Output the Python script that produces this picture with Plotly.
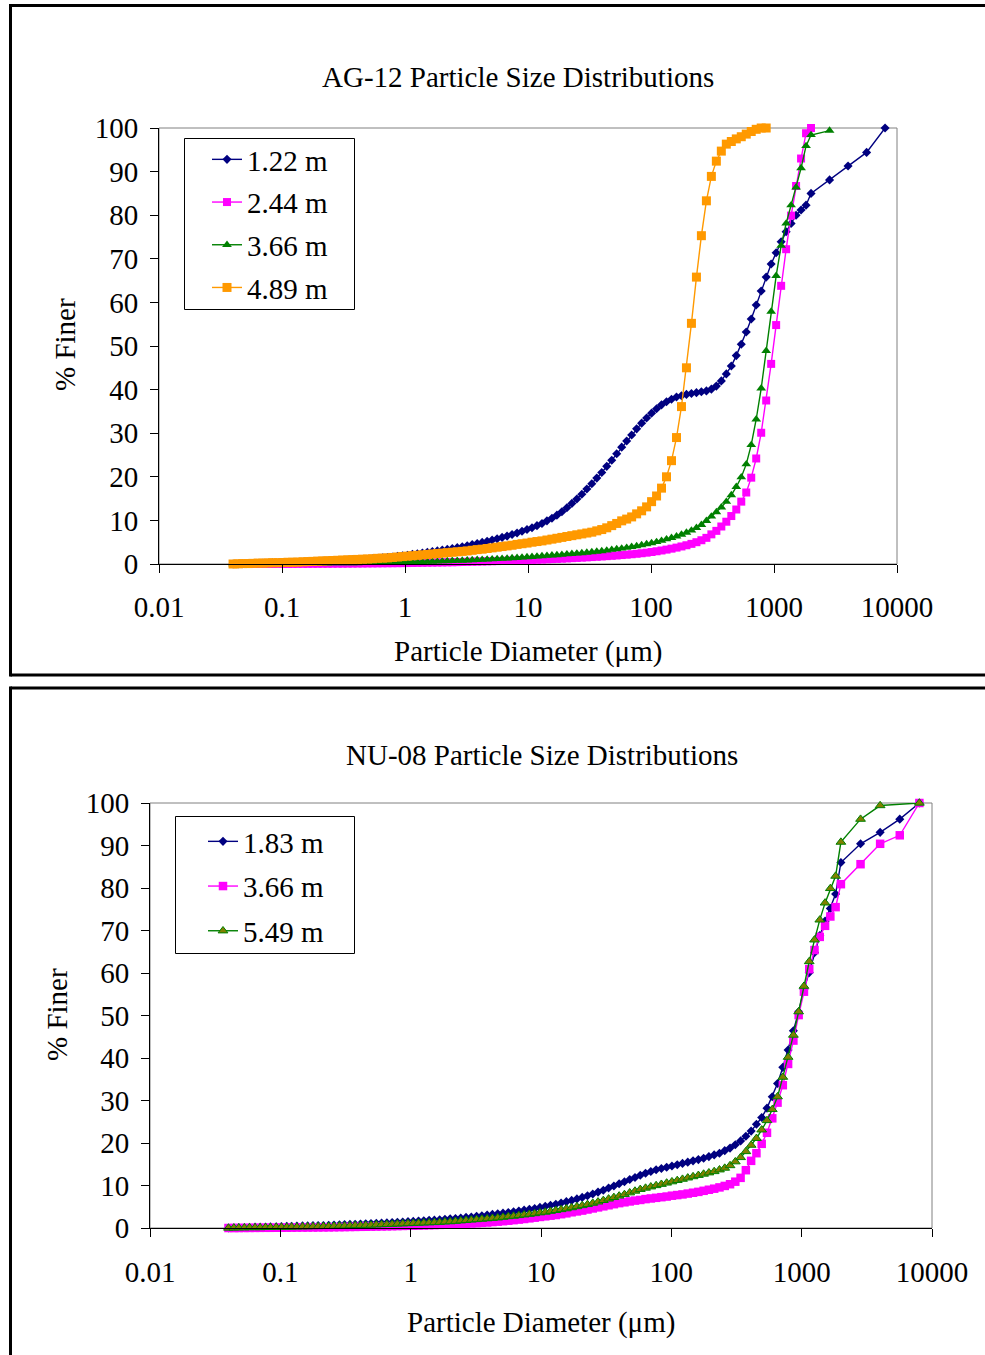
import plotly.graph_objects as go

W, H = 985, 1355
FONT = "Liberation Serif, Times New Roman, serif"

# ---------------- data ----------------
# laser-diffraction channel sizes (um)
SIZES = [0.040, 0.044, 0.048, 0.053, 0.058, 0.064, 0.070, 0.077, 0.084, 0.093,
         0.102, 0.112, 0.122, 0.134, 0.148, 0.162, 0.178, 0.195, 0.214, 0.235,
         0.258, 0.284, 0.311, 0.342, 0.375, 0.412, 0.452, 0.496, 0.545, 0.598,
         0.657, 0.721, 0.791, 0.869, 0.954, 1.047, 1.149, 1.261, 1.385, 1.520,
         1.669, 1.832, 2.010, 2.207, 2.423, 2.660, 2.920, 3.205, 3.519, 3.863,
         4.240, 4.655, 5.110, 5.610, 6.158, 6.760, 7.421, 8.147, 8.943, 9.817,
         10.78, 11.83, 12.99, 14.26, 15.65, 17.18, 18.86, 20.71, 22.73, 24.95,
         27.39, 30.07, 33.01, 36.24, 39.78, 43.67, 47.94, 52.62, 57.77, 63.41,
         69.61, 76.42, 83.89, 92.09, 101.1, 111.0, 121.8, 133.7, 146.8, 161.2,
         176.9, 194.2, 213.2, 234.1, 256.9, 282.1, 309.6, 339.9, 373.1, 409.6,
         449.7, 493.6, 541.9, 594.9, 653.0, 716.8, 786.9, 863.9, 948.3, 1041,
         1143, 1255, 1377, 1512, 1660, 1822, 2000]
# sieve sizes (um)
SIEVE_A = [2830, 4000, 5660, 8000]
SIEVE_B = [2830]
SIEVE_C = [2830, 4000, 8000]

# AG-12
AG_122 = [0.0, 0.0, 0.05, 0.1, 0.1, 0.15, 0.2, 0.2, 0.25, 0.3,
          0.3, 0.35, 0.4, 0.4, 0.45, 0.5, 0.55, 0.6, 0.65, 0.7,
          0.75, 0.8, 0.85, 0.9, 0.95, 1.0, 1.05, 1.1, 1.2, 1.3,
          1.4, 1.5, 1.6, 1.75, 1.9, 2.0, 2.2, 2.35, 2.5, 2.7,
          2.85, 3.0, 3.2, 3.35, 3.55, 3.75, 3.95, 4.2, 4.45, 4.7,
          4.95, 5.2, 5.5, 5.8, 6.1, 6.4, 6.75, 7.1, 7.5, 7.9,
          8.3, 8.8, 9.3, 9.9, 10.5, 11.2, 12.0, 12.9, 13.9, 14.9,
          16.0, 17.2, 18.4, 19.7, 21.0, 22.4, 23.8, 25.3, 26.8, 28.2,
          29.6, 31.0, 32.3, 33.5, 34.6, 35.6, 36.5, 37.2, 37.8, 38.3,
          38.6, 38.9, 39.1, 39.3, 39.5, 39.7, 40.1, 40.8, 42.0, 43.6,
          45.4, 47.8, 50.4, 53.2, 56.2, 59.4, 62.6, 65.8, 68.8, 71.4,
          73.9, 76.2, 78.1, 80.0, 81.2, 82.3, 85.0,
          88.1, 91.3, 94.4, 100.0]
AG_244 = [0.0, 0.0, 0.0, 0.0, 0.0, 0.0, 0.01, 0.01, 0.01, 0.02,
          0.02, 0.02, 0.03, 0.03, 0.04, 0.04, 0.05, 0.05, 0.06, 0.06,
          0.07, 0.08, 0.08, 0.09, 0.1, 0.11, 0.12, 0.13, 0.14, 0.15,
          0.16, 0.17, 0.18, 0.19, 0.2, 0.22, 0.24, 0.26, 0.28, 0.3,
          0.32, 0.34, 0.36, 0.38, 0.4, 0.43, 0.46, 0.49, 0.52, 0.55,
          0.58, 0.61, 0.64, 0.67, 0.7, 0.74, 0.78, 0.82, 0.86, 0.9,
          0.94, 0.98, 1.02, 1.07, 1.12, 1.17, 1.22, 1.28, 1.34, 1.4,
          1.46, 1.52, 1.59, 1.66, 1.73, 1.8, 1.88, 1.96, 2.05, 2.14,
          2.24, 2.35, 2.47, 2.6, 2.75, 2.92, 3.1, 3.3, 3.52, 3.76,
          4.02, 4.3, 4.62, 5.0, 5.45, 6.0, 6.8, 7.6, 8.6, 9.7,
          11.0, 12.5, 14.3, 16.4, 19.8, 24.2, 30.1, 37.5, 45.9, 54.8,
          63.8, 72.2, 79.9, 86.7, 93.0, 98.8, 100.0]
AG_366 = [0.0, 0.0, 0.0, 0.01, 0.02, 0.03, 0.04, 0.05, 0.06, 0.07,
          0.08, 0.09, 0.1, 0.11, 0.12, 0.13, 0.14, 0.15, 0.16, 0.17,
          0.18, 0.19, 0.2, 0.21, 0.22, 0.23, 0.24, 0.25, 0.27, 0.29,
          0.31, 0.33, 0.35, 0.37, 0.39, 0.42, 0.45, 0.48, 0.51, 0.54,
          0.57, 0.6, 0.64, 0.68, 0.72, 0.76, 0.8, 0.85, 0.9, 0.95,
          1.0, 1.05, 1.1, 1.16, 1.22, 1.28, 1.35, 1.42, 1.5, 1.58,
          1.66, 1.74, 1.82, 1.9, 1.98, 2.06, 2.15, 2.24, 2.33, 2.42,
          2.52, 2.62, 2.73, 2.85, 2.98, 3.12, 3.27, 3.42, 3.58, 3.75,
          3.93, 4.12, 4.33, 4.56, 4.8, 5.05, 5.35, 5.68, 6.0, 6.35,
          6.75, 7.2, 7.7, 8.3, 9.0, 9.9, 10.9, 11.9, 13.0, 14.3,
          15.8, 17.7, 19.9, 22.9, 27.3, 33.2, 40.3, 48.9, 57.9, 66.1,
          73.0, 78.1, 82.3, 86.4, 90.8, 95.9, 98.4,
          99.4]
AG_489 = [0.0, 0.05, 0.1, 0.1, 0.15, 0.2, 0.2, 0.25, 0.3, 0.3,
          0.35, 0.4, 0.4, 0.45, 0.5, 0.55, 0.6, 0.65, 0.7, 0.75,
          0.8, 0.85, 0.9, 0.95, 1.0, 1.05, 1.1, 1.15, 1.2, 1.3,
          1.35, 1.4, 1.5, 1.6, 1.7, 1.8, 1.9, 2.0, 2.1, 2.2,
          2.3, 2.4, 2.5, 2.6, 2.7, 2.8, 2.9, 3.0, 3.15, 3.3,
          3.4, 3.55, 3.7, 3.85, 4.0, 4.15, 4.3, 4.5, 4.65, 4.8,
          5.0, 5.15, 5.3, 5.5, 5.7, 5.9, 6.1, 6.3, 6.5, 6.7,
          6.9, 7.1, 7.3, 7.6, 7.9, 8.3, 8.8, 9.3, 9.9, 10.3,
          10.8, 11.5, 12.2, 13.1, 14.3, 15.6, 17.4, 20.0, 23.7, 29.0,
          36.1, 45.0, 55.2, 65.8, 75.3, 83.3, 88.9, 92.4, 94.7, 96.3,
          96.9, 97.5, 98.0, 98.6, 99.2, 99.7, 100.0, 100.0]

# NU-08
NU_183 = [0.0, 0.05, 0.1, 0.1, 0.15, 0.2, 0.2, 0.25, 0.3, 0.3,
          0.35, 0.4, 0.4, 0.45, 0.5, 0.5, 0.55, 0.6, 0.6, 0.65,
          0.7, 0.75, 0.8, 0.85, 0.9, 0.95, 1.0, 1.05, 1.1, 1.15,
          1.2, 1.3, 1.35, 1.4, 1.5, 1.55, 1.65, 1.7, 1.8, 1.85,
          1.95, 2.05, 2.15, 2.25, 2.35, 2.5, 2.6, 2.75, 2.9, 3.05,
          3.2, 3.35, 3.5, 3.65, 3.8, 4.0, 4.2, 4.4, 4.6, 4.85,
          5.1, 5.35, 5.6, 5.9, 6.2, 6.5, 6.85, 7.2, 7.6, 8.0,
          8.45, 8.9, 9.4, 9.9, 10.4, 10.9, 11.4, 11.9, 12.4, 12.9,
          13.3, 13.7, 14.0, 14.3, 14.6, 14.9, 15.2, 15.5, 15.8, 16.1,
          16.4, 16.8, 17.2, 17.6, 18.2, 18.8, 19.6, 20.5, 21.6, 22.8,
          24.4, 26.0, 28.2, 30.9, 34.0, 37.8, 41.9, 46.4, 50.9, 56.2,
          60.1, 64.8, 68.8, 72.2, 75.2, 78.6, 86.0,
          90.4, 93.1, 96.2, 100.0]
NU_366 = [0.0, 0.0, 0.0, 0.02, 0.02, 0.03, 0.04, 0.05, 0.05, 0.06,
          0.07, 0.08, 0.09, 0.1, 0.11, 0.12, 0.13, 0.14, 0.15, 0.16,
          0.18, 0.2, 0.22, 0.24, 0.26, 0.28, 0.3, 0.32, 0.35, 0.38,
          0.4, 0.43, 0.46, 0.49, 0.52, 0.55, 0.58, 0.62, 0.66, 0.7,
          0.74, 0.78, 0.83, 0.88, 0.94, 1.0, 1.07, 1.14, 1.22, 1.3,
          1.4, 1.5, 1.6, 1.72, 1.85, 1.98, 2.12, 2.27, 2.43, 2.6,
          2.75, 2.9, 3.05, 3.25, 3.45, 3.7, 3.9, 4.1, 4.35, 4.6,
          4.85, 5.1, 5.35, 5.6, 5.85, 6.05, 6.25, 6.45, 6.6, 6.8,
          6.95, 7.1, 7.25, 7.4, 7.6, 7.75, 7.9, 8.1, 8.3, 8.5,
          8.75, 9.0, 9.25, 9.55, 9.9, 10.3, 10.9, 11.8, 13.6, 15.8,
          17.6, 19.8, 22.4, 25.8, 29.5, 33.6, 38.6, 44.1, 50.1, 55.6,
          60.9, 65.4, 68.5, 71.1, 73.3, 75.5, 80.9,
          85.6, 90.4, 92.4, 100.0]
NU_549 = [0.0, 0.02, 0.05, 0.05, 0.1, 0.1, 0.1, 0.15, 0.15, 0.2,
          0.2, 0.2, 0.25, 0.25, 0.3, 0.3, 0.35, 0.35, 0.4, 0.4,
          0.45, 0.5, 0.5, 0.55, 0.6, 0.6, 0.65, 0.7, 0.75, 0.8,
          0.85, 0.9, 0.95, 1.0, 1.05, 1.1, 1.15, 1.2, 1.25, 1.3,
          1.35, 1.45, 1.5, 1.6, 1.7, 1.8, 1.9, 2.0, 2.1, 2.2,
          2.3, 2.4, 2.55, 2.7, 2.8, 2.95, 3.1, 3.25, 3.4, 3.6,
          3.75, 3.95, 4.15, 4.35, 4.55, 4.8, 5.05, 5.3, 5.55, 5.85,
          6.15, 6.5, 6.85, 7.2, 7.55, 7.9, 8.3, 8.7, 9.1, 9.4,
          9.7, 10.0, 10.3, 10.6, 10.9, 11.2, 11.5, 11.8, 12.1, 12.4,
          12.7, 13.0, 13.3, 13.7, 14.1, 14.7, 15.6, 16.6, 18.0, 19.5,
          21.1, 23.1, 25.3, 27.9, 30.9, 35.5, 40.2, 45.4, 50.9, 56.9,
          62.7, 67.8, 72.5, 76.5, 79.9, 82.8, 90.8,
          96.2, 99.4, 100.0]

XTICKS = [0.01, 0.1, 1, 10, 100, 1000, 10000]
XTICKTEXT = ["0.01", "0.1", "1", "10", "100", "1000", "10000"]
YTICKS = [0, 10, 20, 30, 40, 50, 60, 70, 80, 90, 100]

NAVY, MAGENTA, GREEN, ORANGE, OLIVE = "#000080", "#FF00FF", "#008000", "#FF9900", "#808000"


def px(v):
    return v / W


def py(v):
    return 1 - v / H


fig = go.Figure()


def add(x, y, name, color, symbol, size, xa, ya, leg, grp, rank, mfill=None, mline=None):
    fig.add_trace(go.Scatter(
        x=x, y=y, name=name, mode="lines+markers",
        line=dict(color=color, width=1.4),
        marker=dict(symbol=symbol, size=size, color=mfill or color,
                    line=dict(color=mline or color, width=1 if mline else 0)),
        cliponaxis=False, xaxis=xa, yaxis=ya, legend=leg,
        legendgroup=grp, legendrank=rank, hoverinfo="skip"))


# top chart
add(SIZES + SIEVE_A, AG_122, "1.22 m", NAVY, "diamond", 7, "x", "y", "legend", "t1", 1)
add(SIZES, AG_244, "2.44 m", MAGENTA, "square", 8, "x", "y", "legend", "t2", 2)
add(SIZES + SIEVE_B, AG_366, "3.66 m", GREEN, "triangle-up", 8.5, "x", "y", "legend", "t3", 3)
add(SIZES[:len(AG_489)], AG_489, "4.89 m", ORANGE, "square", 9, "x", "y", "legend", "t4", 4)

# bottom chart
add(SIZES + SIEVE_A, NU_183, "1.83 m", NAVY, "diamond", 7, "x2", "y2", "legend2", "b1", 1)
add(SIZES + SIEVE_A, NU_366, "3.66 m", MAGENTA, "square", 8.5, "x2", "y2", "legend2", "b2", 2)
add(SIZES + SIEVE_C, NU_549, "5.49 m", GREEN, "triangle-up", 8.5, "x2", "y2", "legend2", "b3", 3,
    mfill=OLIVE, mline=GREEN)

axis_common = dict(showgrid=False, zeroline=False, showline=True, linecolor="black",
                   linewidth=1, ticks="outside", ticklen=8, tickwidth=1, tickcolor="black",
                   automargin=False,
                   tickfont=dict(family=FONT, size=29, color="black"), fixedrange=True)

TOP = dict(l=159, r=897, t=128, b=564)
BOT = dict(l=150, r=932, t=803, b=1228)

fig.update_layout(
    width=W, height=H, autosize=False,
    margin=dict(l=0, r=0, t=0, b=0, pad=0, autoexpand=False),
    paper_bgcolor="white", plot_bgcolor="white",
    font=dict(family=FONT, size=29, color="black"),
    showlegend=True,
    xaxis=dict(type="log", range=[-2, 4], domain=[px(TOP["l"]), px(TOP["r"])], anchor="y",
               tickvals=XTICKS, ticktext=XTICKTEXT, ticklabelstandoff=9, **axis_common),
    yaxis=dict(range=[0, 100], domain=[py(TOP["b"]), py(TOP["t"])], anchor="x",
               tickvals=YTICKS, ticklabelstandoff=6, **axis_common),
    xaxis2=dict(type="log", range=[-2, 4], domain=[px(BOT["l"]), px(BOT["r"])], anchor="y2",
                tickvals=XTICKS, ticktext=XTICKTEXT, ticklabelstandoff=10, **axis_common),
    yaxis2=dict(range=[0, 100], domain=[py(BOT["b"]), py(BOT["t"])], anchor="x2",
                tickvals=YTICKS, ticklabelstandoff=6, **axis_common),
    legend=dict(x=px(207), y=py(134), xanchor="left", yanchor="top",
                bgcolor="rgba(0,0,0,0)", borderwidth=0, tracegroupgap=2,
                traceorder="grouped", font=dict(family=FONT, size=29, color="black")),
    legend2=dict(x=px(203), y=py(816), xanchor="left", yanchor="top",
                 bgcolor="rgba(0,0,0,0)", borderwidth=0, tracegroupgap=4,
                 traceorder="grouped", font=dict(family=FONT, size=29, color="black")),
)


def seg(x0, y0, x1, y1, color="black", width=3):
    return dict(type="line", xref="paper", yref="paper", x0=px(x0), y0=py(y0),
                x1=px(x1), y1=py(y1), line=dict(color=color, width=width))


shapes = [
    # outer chart frames (cut by the page's right / bottom edge)
    seg(10.5, 5.5, 985, 5.5), seg(10.5, 4, 10.5, 676.5), seg(10.5, 675, 985, 675),
    seg(10.5, 688, 985, 688), seg(10.5, 686.5, 10.5, 1355),
    # plot area borders
    dict(type="rect", xref="paper", yref="paper", x0=px(TOP["l"]), x1=px(TOP["r"]),
         y0=py(TOP["b"]), y1=py(TOP["t"]), line=dict(color="#808080", width=1), layer="below"),
    dict(type="rect", xref="paper", yref="paper", x0=px(BOT["l"]), x1=px(BOT["r"]),
         y0=py(BOT["b"]), y1=py(BOT["t"]), line=dict(color="#808080", width=1), layer="below"),
    # legend frames
    dict(type="rect", xref="paper", yref="paper", x0=px(184.5), x1=px(354.5), y0=py(309.5), y1=py(138.5),
         line=dict(color="black", width=1)),
    dict(type="rect", xref="paper", yref="paper", x0=px(175.5), x1=px(354.5), y0=py(953.5), y1=py(816.5),
         line=dict(color="black", width=1)),
]
fig.update_layout(shapes=shapes)

ann_font = dict(family=FONT, size=29, color="black")
annotations = [
    dict(text="AG-12 Particle Size Distributions", x=px(518), y=py(77)),
    dict(text="Particle Diameter (\u03bcm)", x=px(528), y=py(652)),
    dict(text="% Finer", x=px(65), y=py(345), textangle=-90),
    dict(text="NU-08 Particle Size Distributions", x=px(542), y=py(755)),
    dict(text="Particle Diameter (\u03bcm)", x=px(541), y=py(1322)),
    dict(text="% Finer", x=px(57), y=py(1015), textangle=-90),
]
for a in annotations:
    a.update(xref="paper", yref="paper", xanchor="center", yanchor="middle",
             showarrow=False, font=ann_font)
fig.update_layout(annotations=annotations)

fig.write_html("out.html")
